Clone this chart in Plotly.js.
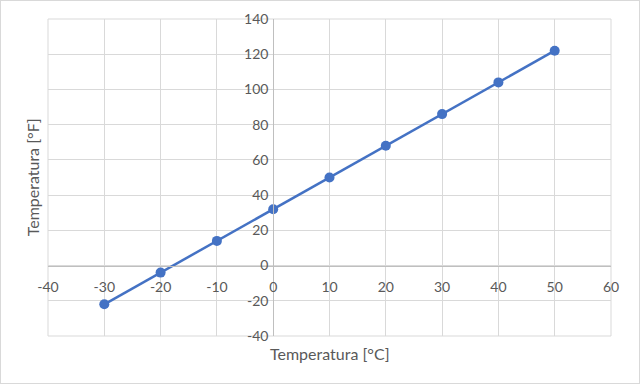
<!DOCTYPE html>
<html>
<head>
<meta charset="utf-8">
<script src="https://cdn.plot.ly/plotly-3.0.1.min.js"></script>
<style>
html,body{margin:0;padding:0;background:#fff;}
#frame{position:absolute;left:0;top:0;width:640px;height:384px;box-sizing:border-box;border:1px solid #d9d9d9;}
#chart{width:638px;height:382px;}
</style>
</head>
<body>
<div id="frame"><div id="chart"></div></div>
<script>
const celsius = [-30, -20, -10, 0, 10, 20, 30, 40, 50];
const fahrenheit = [-22, -4, 14, 32, 50, 68, 86, 104, 122];
const xTicks = [-40, -30, -20, -10, 0, 10, 20, 30, 40, 50, 60];
const yTicks = [-40, -20, 0, 20, 40, 60, 80, 100, 120, 140];
const xTitle = 'Temperatura [°C]';
const yTitle = 'Temperatura [°F]';

const xRange = [-40, 60];
const yRange = [-40, 140];
const font = 'Lato, "Open Sans", sans-serif';
const tickFont = {family: font, size: 14, color: '#595959'};

const trace = {
  x: celsius, y: fahrenheit, type: 'scatter', mode: 'lines+markers',
  line: {color: '#4472C4', width: 2.5},
  marker: {color: '#4472C4', size: 10},
  cliponaxis: false
};

const layout = {
  width: 638, height: 382,
  margin: {l: 47, r: 28, t: 18, b: 47},
  paper_bgcolor: '#fff', plot_bgcolor: '#fff',
  showlegend: false,
  xaxis: {
    range: xRange, tickvals: xTicks, ticktext: xTicks.map(String),
    anchor: 'free', position: (0 - yRange[0]) / (yRange[1] - yRange[0]),
    showgrid: true, gridcolor: '#d9d9d9', gridwidth: 1,
    zeroline: false, showline: true, linecolor: '#bfbfbf', linewidth: 1,
    ticks: 'outside', ticklen: 9, tickcolor: 'rgba(0,0,0,0)',
    tickfont: tickFont, fixedrange: true
  },
  yaxis: {
    range: yRange, tickvals: yTicks, ticktext: yTicks.map(String),
    anchor: 'free', position: (0 - xRange[0]) / (xRange[1] - xRange[0]),
    showgrid: true, gridcolor: '#d9d9d9', gridwidth: 1,
    zeroline: false, showline: true, linecolor: '#bfbfbf', linewidth: 1,
    ticks: 'outside', ticklen: 2, tickcolor: 'rgba(0,0,0,0)',
    tickfont: tickFont, fixedrange: true
  },
  shapes: [
    {type: 'rect', xref: 'paper', yref: 'paper', x0: 0, x1: 1, y0: 0, y1: 1,
     line: {color: '#d9d9d9', width: 1}, layer: 'below'}
  ],
  annotations: [
    {text: xTitle, xref: 'paper', yref: 'paper', x: 0.5, y: -0.02,
     xanchor: 'center', yanchor: 'top', showarrow: false,
     font: {family: font, size: 16, color: '#595959'}},
    {text: yTitle, xref: 'paper', yref: 'paper', x: -0.027, y: 0.5,
     xanchor: 'center', yanchor: 'middle', textangle: -90, showarrow: false,
     font: {family: font, size: 16, color: '#595959'}}
  ]
};

Plotly.newPlot('chart', [trace], layout, {displayModeBar: false, staticPlot: true});
</script>
</body>
</html>
